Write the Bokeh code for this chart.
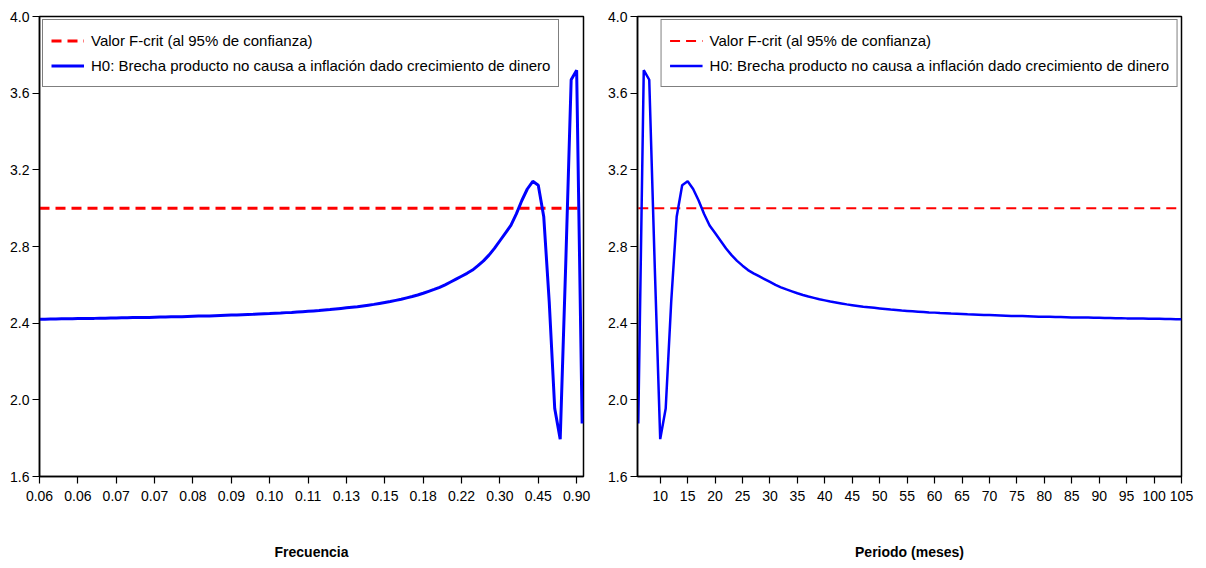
from bokeh.plotting import figure
from bokeh.layouts import row
from bokeh.models import FixedTicker, Range1d, Legend, LegendItem, PrintfTickFormatter
from bokeh.embed import file_html
from bokeh.resources import INLINE

# ---------------- data ----------------
periods = list(range(6, 106))
f_stat = [
    1.877, 3.72, 3.67, 2.70, 1.795, 1.955, 2.51, 2.955, 3.12, 3.14,      # 6-15
    3.10, 3.04, 2.97, 2.91, 2.87, 2.83, 2.79, 2.755, 2.725, 2.70,        # 16-25
    2.677, 2.66, 2.645, 2.63, 2.615, 2.60, 2.587, 2.576, 2.566, 2.556,   # 26-35
    2.547, 2.539, 2.532, 2.525, 2.519, 2.513, 2.508, 2.503, 2.498, 2.494,  # 36-45
    2.490, 2.486, 2.483, 2.480, 2.477, 2.474, 2.471, 2.469, 2.466, 2.464,  # 46-55
    2.462, 2.460, 2.458, 2.456, 2.455, 2.453, 2.452, 2.450, 2.449, 2.448,  # 56-65
    2.446, 2.445, 2.444, 2.443, 2.442, 2.441, 2.440, 2.439, 2.438, 2.437,  # 66-75
    2.437, 2.436, 2.435, 2.434, 2.434, 2.433, 2.432, 2.432, 2.431, 2.430,  # 76-85
    2.430, 2.429, 2.429, 2.428, 2.428, 2.427, 2.427, 2.426, 2.426, 2.425,  # 86-95
    2.425, 2.424, 2.424, 2.423, 2.423, 2.423, 2.422, 2.422, 2.421, 2.421,  # 96-105
]
f_crit = 3.0

freq_tick_periods = [105, 98, 91, 84, 77, 70, 63, 56, 49, 42, 35, 28, 21, 14, 7]
freq_tick_labels = ["0.06", "0.06", "0.07", "0.07", "0.08", "0.09", "0.10", "0.11",
                    "0.13", "0.15", "0.18", "0.22", "0.30", "0.45", "0.90"]
period_ticks = [10, 15, 20, 25, 30, 35, 40, 45, 50, 55, 60, 65, 70, 75, 80, 85,
                90, 95, 100, 105]
y_ticks = [1.6, 2.0, 2.4, 2.8, 3.2, 3.6, 4.0]

legend_crit = "Valor F-crit (al 95% de confianza)"
legend_h0 = "H0: Brecha producto no causa a inflación dado crecimiento de dinero"

FONT = "Liberation Sans"
RED = "#ff0000"
BLUE = "#0000ff"


def style(p, xlabel):
    p.outline_line_color = "black"
    p.outline_line_width = 1.5
    p.xgrid.visible = False
    p.ygrid.visible = False
    p.background_fill_color = "white"
    p.border_fill_color = "white"
    for ax in (p.xaxis[0], p.yaxis[0]):
        ax.axis_line_color = "black"
        ax.axis_line_width = 1.5
        ax.major_tick_line_color = "black"
        ax.major_tick_line_width = 1.2
        ax.major_tick_in = 0
        ax.major_tick_out = 7
        ax.minor_tick_line_color = None
        ax.major_label_text_font = FONT
        ax.major_label_text_font_size = "14px"
        ax.major_label_text_color = "black"
    p.yaxis[0].ticker = FixedTicker(ticks=y_ticks)
    p.yaxis[0].formatter = PrintfTickFormatter(format="%.1f")
    p.yaxis[0].major_label_standoff = 3
    p.xaxis[0].major_label_standoff = 7
    p.xaxis[0].axis_label = xlabel
    p.xaxis[0].axis_label_text_font = FONT
    p.xaxis[0].axis_label_text_font_style = "bold"
    p.xaxis[0].axis_label_text_font_size = "14px"
    p.xaxis[0].axis_label_text_color = "black"
    p.xaxis[0].axis_label_standoff = 40


def add_legend(p, r_crit, r_h0, loc):
    leg = Legend(items=[LegendItem(label=legend_crit, renderers=[r_crit]),
                        LegendItem(label=legend_h0, renderers=[r_h0])],
                 location=loc)
    leg.margin = 3
    leg.padding = 8
    leg.spacing = 0
    leg.label_standoff = 7
    leg.glyph_width = 33
    leg.glyph_height = 25
    leg.label_height = 25
    leg.label_text_font = FONT
    leg.label_text_font_size = "15px"
    leg.label_text_color = "black"
    leg.border_line_color = "black"
    leg.border_line_width = 1
    leg.background_fill_alpha = 1
    p.add_layout(leg, "center")


# ---------------- left: frequency (index based) ----------------
n = len(periods)
idx = list(range(n))
periods_rev = periods[::-1]
f_rev = f_stat[::-1]
tick_idx = [periods_rev.index(pp) for pp in freq_tick_periods]

p1 = figure(width=603, height=568, output_backend="svg", toolbar_location=None,
            x_range=Range1d(0, 99.25), y_range=Range1d(1.6, 4.0),
            min_border_left=39, min_border_right=20, min_border_top=16,
            min_border_bottom=92)
r1c = p1.line(idx, [f_crit] * n, line_color=RED, line_width=3, line_dash="10 6")
r1h = p1.line(idx, f_rev, line_color=BLUE, line_width=3)
style(p1, "Frecuencia")
p1.xaxis[0].ticker = FixedTicker(ticks=tick_idx)
p1.xaxis[0].major_label_overrides = {t: lab for t, lab in zip(tick_idx, freq_tick_labels)}
add_legend(p1, r1c, r1h, "top_left")

# ---------------- right: period ----------------
p2 = figure(width=603, height=568, output_backend="svg", toolbar_location=None,
            x_range=Range1d(5.86, 105), y_range=Range1d(1.6, 4.0),
            min_border_left=34, min_border_right=25, min_border_top=16,
            min_border_bottom=92)
r2c = p2.line(periods, [f_crit] * n, line_color=RED, line_width=2, line_dash="10 6")
r2h = p2.line(periods, f_stat, line_color=BLUE, line_width=2.5)
style(p2, "Periodo (meses)")
p2.xaxis[0].ticker = FixedTicker(ticks=period_ticks)
add_legend(p2, r2c, r2h, "top_right")

layout = row(p1, p2)
open("out.html", "w").write(file_html(layout, INLINE))
